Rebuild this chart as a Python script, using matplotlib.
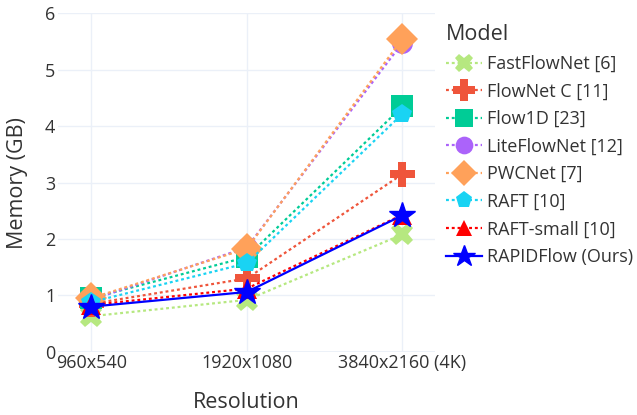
import matplotlib.pyplot as plt

plt.rcParams['font.family'] = ['Open Sans', 'DejaVu Sans']

resolutions = ["960x540", "1920x1080", "3840x2160 (4K)"]

models = ["FastFlowNet [6]", "FlowNet C [11]", "Flow1D [23]", "LiteFlowNet [12]",
          "PWCNet [7]", "RAFT [10]", "RAFT-small [10]", "RAPIDFlow (Ours)"]
fastflownet = [0.63, 0.92, 2.08]
flownetc = [0.85, 1.30, 3.15]
flow1d = [0.95, 1.68, 4.35]
liteflownet = [0.92, 1.85, 5.48]
pwcnet = [0.95, 1.83, 5.55]
raft = [0.88, 1.57, 4.22]
raft_small = [0.83, 1.12, 2.43]
rapidflow = [0.80, 1.06, 2.42]
memory = [fastflownet, flownetc, flow1d, liteflownet, pwcnet, raft, raft_small, rapidflow]

colors = ['#B6E880', '#EF553B', '#00CC96', '#AB63FA', '#FFA15A', '#19D3F3', '#FF0000', '#0000FF']
markers = ['X', 'P', 's', 'o', 'D', 'p', '^', '*']
sizes = [16, 18, 16, 15, 16, 15, 14, 19]
text_col = '#333333'

fig = plt.figure(figsize=(6.37, 4.15), dpi=100)
ax = fig.add_axes([0.091, 0.1525, 0.592, 0.815])

x = range(len(resolutions))
for i, name in enumerate(models):
    if i == len(models) - 1:
        ax.plot(x, memory[i], color=colors[i], lw=1.6, marker=markers[i],
                markersize=sizes[i], label=name, zorder=3 + i)
    else:
        ax.plot(x, memory[i], color=colors[i], lw=1.6, dashes=(1.3, 1.3),
                marker=markers[i], markersize=sizes[i], markeredgewidth=0,
                label=name, zorder=3 + i)

ax.set_xlim(-0.215, 2.21)
ax.set_ylim(0, 6)
ax.set_xticks(list(x))
ax.set_xticklabels(resolutions)
ax.set_yticks(range(7))
ax.grid(color='#EBF0F8', lw=1)
ax.axhline(0, color='#EBF0F8', lw=2, zorder=1)
for s in ax.spines.values():
    s.set_visible(False)
ax.tick_params(length=0, labelsize=13, colors=text_col, pad=2)
ax.set_axisbelow(True)

ax.set_xlabel("Resolution", fontsize=15.5, color=text_col, labelpad=14)
ax.set_ylabel("Memory (GB)", fontsize=15.5, color=text_col, labelpad=12)

leg = ax.legend(loc='upper left', bbox_to_anchor=(1.0, 1.0), frameon=False,
                title="Model", fontsize=13, title_fontsize=15.5,
                handlelength=2.0, labelspacing=0.53, handletextpad=0.3,
                borderaxespad=0.2, markerscale=0.85)
leg._legend_box.align = 'left'
leg.get_title().set_color(text_col)
for t in leg.get_texts():
    t.set_color(text_col)

fig.savefig('out.png', dpi=100)
